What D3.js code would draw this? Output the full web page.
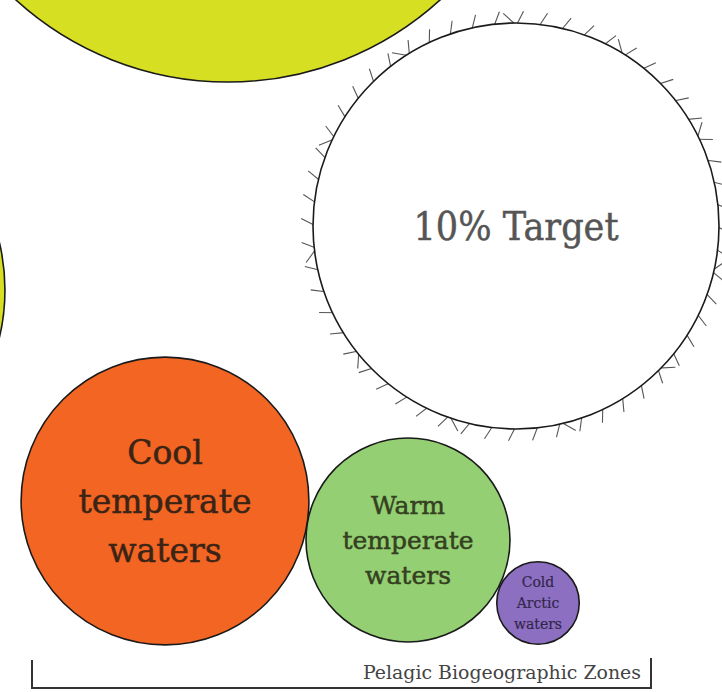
<!DOCTYPE html>
<html>
<head>
<meta charset="utf-8">
<script src="https://cdn.jsdelivr.net/npm/d3@7"></script>
<style>
  body { margin: 0; background: #fff; }
  svg { display: block; }
</style>
</head>
<body>
<script>
// bubble values (relative area of each zone)
const zones = ["Open ocean", "Coastal shelf", "10% Target", "Cool temperate waters", "Warm temperate waters", "Cold Arctic waters"];
const areas = [99.2, 42.0, 41.2, 20.7, 10.4, 1.7];
const labelLines = [[], [], ["10% Target"], ["Cool", "temperate", "waters"], ["Warm", "temperate", "waters"], ["Cold", "Arctic", "waters"]];
const axisLabel = "Pelagic Biogeographic Zones";

// layout (where each bubble sits) and look
const centers = [[228, -233], [-200, 290], [516, 226], [165, 501], [408, 540], [538, 603]];
const fills = ["#d7df23", "#d7df23", "#ffffff", "#f26522", "#95cf73", "#8c6fc0"];
const fontSizes = [0, 0, 40, 33, 25, 14];
const lineGaps = [0, 0, 0, 49, 35, 21];
const textColors = ["#333", "#333", "#555", "#3b2416", "#34401f", "#33264d"];

const width = 722, height = 692;

const svg = d3.select("body").append("svg")
    .attr("width", width)
    .attr("height", height);

const rScale = d3.scaleSqrt()
    .domain([0, d3.max(areas)])
    .range([0, 315]);

const bubbles = zones.map((z, i) => ({
    name: z, value: areas[i], x: centers[i][0], y: centers[i][1],
    r: rScale(areas[i]), fill: fills[i], lines: labelLines[i],
    size: fontSizes[i], gap: lineGaps[i], color: textColors[i]
}));

// hatch ticks round the target bubble
const target = bubbles[2];
const nTicks = 56;
const ticks = d3.range(nTicks).map(i => i * 2 * Math.PI / nTicks);
const tilt = 0.035;

svg.append("g")
    .selectAll("line")
    .data(ticks)
    .join("line")
    .attr("x1", a => target.x + (target.r - 3) * Math.cos(a))
    .attr("y1", a => target.y + (target.r - 3) * Math.sin(a))
    .attr("x2", a => target.x + (target.r + 12) * Math.cos(a + tilt))
    .attr("y2", a => target.y + (target.r + 12) * Math.sin(a + tilt))
    .attr("stroke", "#555")
    .attr("stroke-width", 1.1);

// a few crossing strokes that make the zigzags
svg.append("g")
    .selectAll("line")
    .data(ticks.filter((a, i) => i % 5 === 2))
    .join("line")
    .attr("x1", a => target.x + (target.r - 2) * Math.cos(a))
    .attr("y1", a => target.y + (target.r - 2) * Math.sin(a))
    .attr("x2", a => target.x + (target.r + 10) * Math.cos(a - 0.06))
    .attr("y2", a => target.y + (target.r + 10) * Math.sin(a - 0.06))
    .attr("stroke", "#555")
    .attr("stroke-width", 1.1);

// circles
svg.append("g")
    .selectAll("circle")
    .data(bubbles)
    .join("circle")
    .attr("cx", d => d.x)
    .attr("cy", d => d.y)
    .attr("r", d => d.r)
    .attr("fill", d => d.fill)
    .attr("stroke", "#1a1a1a")
    .attr("stroke-width", 1.6);

// labels
const labels = svg.append("g")
    .selectAll("g")
    .data(bubbles.filter(d => d.lines.length))
    .join("g");

labels.selectAll("text")
    .data(d => d.lines.map((t, i) => ({ t, i, d })))
    .join("text")
    .attr("x", o => o.d.x)
    .attr("y", o => o.d.y + (o.i - (o.d.lines.length - 1) / 2) * o.d.gap + o.d.size * 0.36)
    .attr("text-anchor", "middle")
    .attr("font-family", "'DejaVu Serif', serif")
    .attr("font-size", o => o.d.size)
    .attr("fill", o => o.d.color)
    .attr("stroke", o => o.d.color)
    .attr("stroke-width", o => o.d.size > 20 ? 0.5 : 0.2)
    .attr("textLength", o => o.d.name === "10% Target" ? 205 : null)
    .attr("lengthAdjust", "spacingAndGlyphs")
    .text(o => o.t);

// bracket with the group label
svg.append("path")
    .attr("d", "M32,660 V688 H651 V658")
    .attr("fill", "none")
    .attr("stroke", "#333")
    .attr("stroke-width", 2);

svg.append("text")
    .attr("x", 641)
    .attr("y", 679)
    .attr("text-anchor", "end")
    .attr("font-family", "'DejaVu Serif', serif")
    .attr("font-size", 18.5)
    .attr("fill", "#444")
    .attr("textLength", 278)
    .attr("lengthAdjust", "spacingAndGlyphs")
    .text(axisLabel);
</script>
</body>
</html>
